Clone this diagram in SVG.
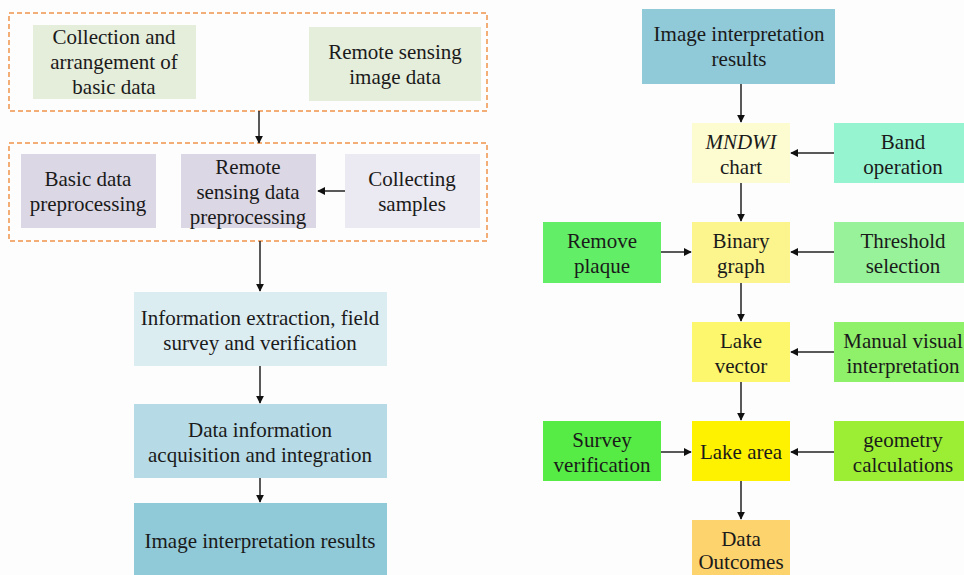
<svg xmlns="http://www.w3.org/2000/svg" width="964" height="575" viewBox="0 0 964 575">
<defs>
<marker id="ah" viewBox="0 0 10 10" refX="9" refY="5" markerWidth="8" markerHeight="8" markerUnits="userSpaceOnUse" orient="auto">
<path d="M0,0 L10,5 L0,10 z" fill="#111"/>
</marker>
<style>
text{font-family:"Liberation Serif","Times New Roman",serif;font-size:21px;fill:#1a1a1a;text-anchor:middle}
.dash{fill:none;stroke:#f0924a;stroke-width:1.5;stroke-dasharray:5,3}
.c{stroke:#222;stroke-width:1.5;fill:none;marker-end:url(#ah)}
</style>
</defs>
<rect width="964" height="575" fill="#fdfdfd"/>
<g id="groups">
<rect class="dash" x="9" y="13" width="478" height="98"/>
<rect class="dash" x="9" y="143" width="478" height="98"/>
</g>
<g id="n1"><rect x="33" y="25" width="163" height="74" fill="#e5eddb"/><text x="114" y="44">Collection and</text><text x="114" y="69">arrangement of</text><text x="114" y="94">basic data</text></g>
<g id="n2"><rect x="309" y="27" width="172" height="74" fill="#e5eddb"/><text x="395" y="59">Remote sensing</text><text x="395" y="84">image data</text></g>
<g id="n3"><rect x="21" y="154" width="135" height="74" fill="#dcd7e5"/><text x="88" y="186">Basic data</text><text x="88" y="211">preprocessing</text></g>
<g id="n4"><rect x="181" y="154" width="135" height="74" fill="#dcd7e5"/><text x="248" y="174">Remote</text><text x="248" y="199">sensing data</text><text x="248" y="224">preprocessing</text></g>
<g id="n5"><rect x="345" y="154" width="135" height="74" fill="#ebe9f1"/><text x="412" y="186">Collecting</text><text x="412" y="211">samples</text></g>
<g id="n6"><rect x="134" y="292" width="253" height="74" fill="#dcedf2"/><text x="260" y="325">Information extraction, field</text><text x="260" y="350">survey and verification</text></g>
<g id="n7"><rect x="134" y="404" width="253" height="74" fill="#b6dbe6"/><text x="260" y="437">Data information</text><text x="260" y="462">acquisition and integration</text></g>
<g id="n8"><rect x="134" y="503" width="253" height="80" fill="#90c9d8"/><text x="260" y="548">Image interpretation results</text></g>
<g id="r1"><rect x="642" y="9" width="193" height="75" fill="#90c9d8"/><text x="739" y="41">Image interpretation</text><text x="739" y="66">results</text></g>
<g id="r2"><rect x="692" y="123" width="98" height="60" fill="#fdfbd0"/><text x="741" y="149" font-style="italic">MNDWI</text><text x="741" y="174">chart</text></g>
<g id="r3"><rect x="834" y="123" width="140" height="60" fill="#97f4d0"/><text x="903" y="149">Band</text><text x="903" y="174">operation</text></g>
<g id="r4"><rect x="543" y="222" width="118" height="61" fill="#63ee68"/><text x="602" y="248">Remove</text><text x="602" y="273">plaque</text></g>
<g id="r5"><rect x="692" y="222" width="98" height="61" fill="#fcf58e"/><text x="741" y="248">Binary</text><text x="741" y="273">graph</text></g>
<g id="r6"><rect x="834" y="222" width="140" height="61" fill="#98f29a"/><text x="903" y="248">Threshold</text><text x="903" y="273">selection</text></g>
<g id="r7"><rect x="692" y="322" width="98" height="60" fill="#fcf76c"/><text x="741" y="348">Lake</text><text x="741" y="373">vector</text></g>
<g id="r8"><rect x="834" y="322" width="140" height="60" fill="#8ff06a"/><text x="903" y="348">Manual visual</text><text x="903" y="373">interpretation</text></g>
<g id="r9"><rect x="543" y="421" width="118" height="60" fill="#57ec45"/><text x="602" y="447">Survey</text><text x="602" y="472">verification</text></g>
<g id="r10"><rect x="692" y="421" width="98" height="60" fill="#fff200"/><text x="741" y="459">Lake area</text></g>
<g id="r11"><rect x="834" y="421" width="140" height="60" fill="#9cee34"/><text x="903" y="447">geometry</text><text x="903" y="472">calculations</text></g>
<g id="r12"><rect x="692" y="520" width="98" height="70" fill="#fdd36d"/><text x="741" y="546">Data</text><text x="741" y="569">Outcomes</text></g>
<g id="connectors">
<line class="c" x1="259" y1="111" x2="259" y2="143"/>
<line class="c" x1="345" y1="191" x2="318" y2="191"/>
<line class="c" x1="260" y1="241" x2="260" y2="291"/>
<line class="c" x1="260" y1="366" x2="260" y2="403"/>
<line class="c" x1="260" y1="478" x2="260" y2="502"/>
<line class="c" x1="741" y1="84" x2="741" y2="122"/>
<line class="c" x1="834" y1="153" x2="791" y2="153"/>
<line class="c" x1="741" y1="183" x2="741" y2="221"/>
<line class="c" x1="661" y1="252" x2="691" y2="252"/>
<line class="c" x1="834" y1="252" x2="791" y2="252"/>
<line class="c" x1="741" y1="283" x2="741" y2="321"/>
<line class="c" x1="834" y1="352" x2="791" y2="352"/>
<line class="c" x1="741" y1="382" x2="741" y2="420"/>
<line class="c" x1="661" y1="452" x2="691" y2="452"/>
<line class="c" x1="834" y1="452" x2="791" y2="452"/>
<line class="c" x1="741" y1="481" x2="741" y2="519"/>
</g>
</svg>
